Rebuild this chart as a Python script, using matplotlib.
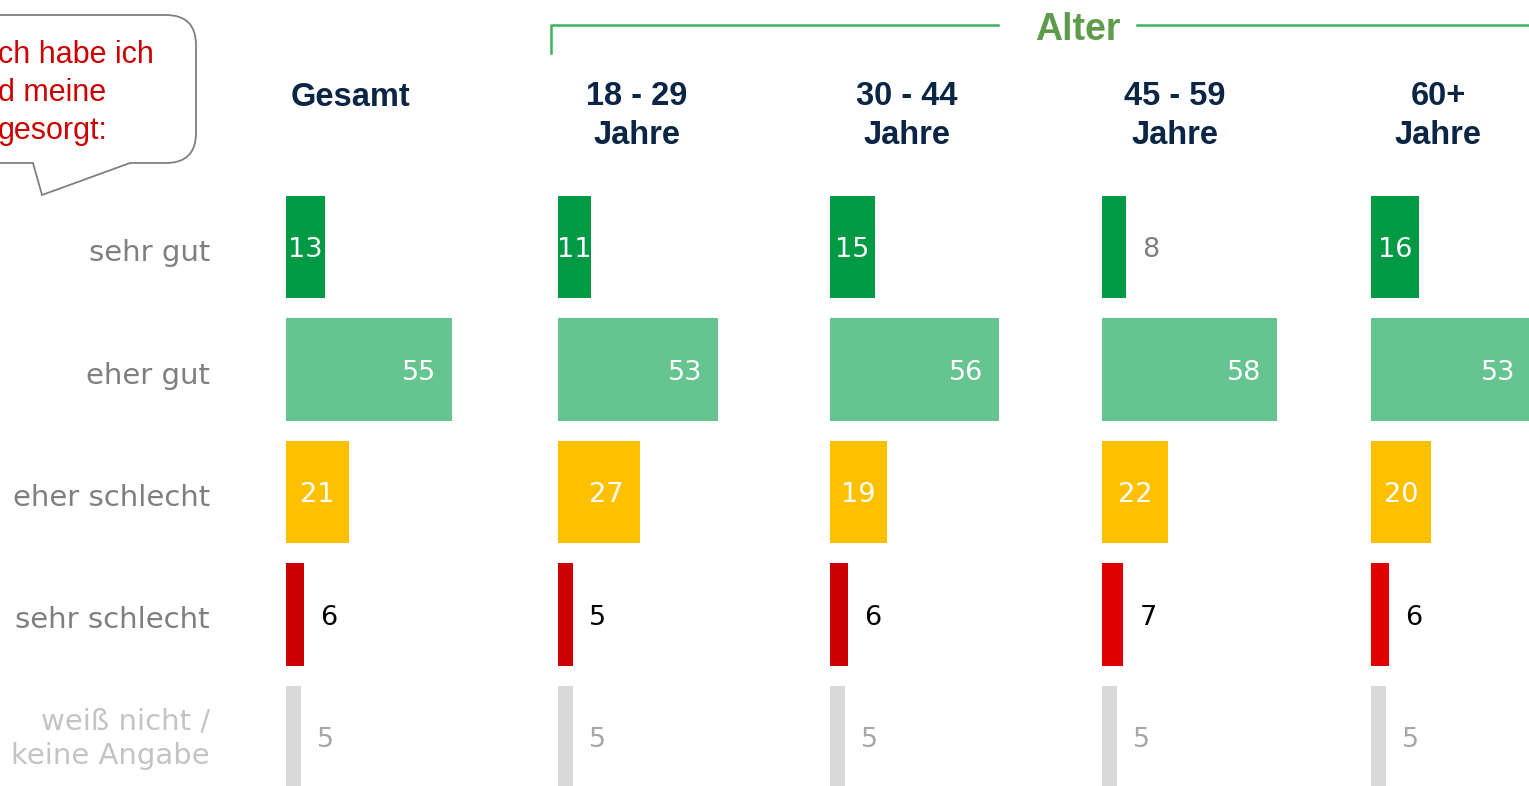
import matplotlib
matplotlib.use('Agg')
import matplotlib.pyplot as plt
from matplotlib.patches import PathPatch
from matplotlib.path import Path

# Data (percent)
categories = ['sehr gut', 'eher gut', 'eher schlecht', 'sehr schlecht',
              'weiß nicht /\nkeine Angabe']
groups = ['Gesamt', '18 - 29\nJahre', '30 - 44\nJahre', '45 - 59\nJahre', '60+\nJahre']
gesamt = [13, 55, 21, 6, 5]
age_18_29 = [11, 53, 27, 5, 5]
age_30_44 = [15, 56, 19, 6, 5]
age_45_59 = [8, 58, 22, 7, 5]
age_60_plus = [16, 53, 20, 6, 5]
values = [gesamt, age_18_29, age_30_44, age_45_59, age_60_plus]
bubble_lines = ['ch habe ich', 'd meine', 'gesorgt:']

# Styling
bar_colors = ['#009a44', '#66c491', '#ffc000', '#cc0000', '#d9d9d9']
red_per_panel = ['#cc0000', '#cc0000', '#cc0000', '#e00000', '#e00000']
outside_colors = ['#7f7f7f', '#7f7f7f', '#7f7f7f', 'black', '#a6a6a6']
cat_colors = ['#7f7f7f', '#7f7f7f', '#7f7f7f', '#7f7f7f', '#c4c4c4']
navy = '#0b2545'
green_line = '#3cb45a'
green_text = '#5e9c4c'

W, H = 1529, 786
panel_left = [286, 558, 830, 1102, 1371]
header_x = [351, 637, 907, 1175, 1438]
px_per_unit = 3.02
xmax = 90
row_top, row_step = 185.75, 122.5

fig = plt.figure(figsize=(W / 100, H / 100), dpi=100)

# overlay axes in pixel coordinates for decorations
ov = fig.add_axes([0, 0, 1, 1])
ov.set_xlim(0, W)
ov.set_ylim(H, 0)
ov.axis('off')

# speech bubble
verts = [(-30, 15), (166, 15), (196, 15), (196, 45), (196, 133), (196, 163),
         (166, 163), (130, 163), (42, 195), (33, 163), (-30, 163), (-30, 15)]
codes = [Path.MOVETO, Path.LINETO, Path.CURVE3, Path.CURVE3, Path.LINETO,
         Path.CURVE3, Path.CURVE3, Path.LINETO, Path.LINETO, Path.LINETO,
         Path.LINETO, Path.CLOSEPOLY]
ov.add_patch(PathPatch(Path(verts, codes), facecolor='white',
                       edgecolor='#808080', lw=1.3))
for i, line in enumerate(bubble_lines):
    ov.text(-2, 55 + 38 * i, line, ha='left', va='center', fontsize=22,
            color='#cc0000', family='Liberation Sans')

# "Alter" bracket
ov.plot([551, 551, 998], [53, 25, 25], color=green_line, lw=1.8)
ov.plot([1137, W], [25, 25], color=green_line, lw=1.8)
ov.text(1078, 30, 'Alter', ha='center', va='center', fontsize=27,
        fontweight='bold', color=green_text, family='Liberation Sans')

# group headers
for g, hx in zip(groups, header_x):
    yc = 97 if '\n' not in g else 116
    ov.text(hx, yc, g, ha='center', va='center', fontsize=23.5,
            fontweight='bold', color=navy, family='Liberation Sans',
            linespacing=1.32)

# category labels
for i, (cat, c) in enumerate(zip(categories, cat_colors)):
    yc = row_top + row_step * (i + 0.5)
    ov.text(210, yc + (2 if i == 4 else 6), cat, ha='right', va='center',
            fontsize=21, color=c, multialignment='right', linespacing=1.3)

# panels
for p, (x0, vals) in enumerate(zip(panel_left, values)):
    ax = fig.add_axes([x0 / W, 1 - (row_top + 5 * row_step) / H,
                       xmax * px_per_unit / W, 5 * row_step / H])
    cols = list(bar_colors)
    cols[3] = red_per_panel[p]
    ax.barh(range(len(vals)), vals, height=0.833, color=cols)
    ax.set_xlim(0, xmax)
    ax.set_ylim(len(vals) - 0.5, -0.5)
    ax.axis('off')
    for i, v in enumerate(vals):
        if v >= 10:
            ax.text(max(v - 11, v / 2), i + 0.025, str(v), ha='center',
                    va='center', fontsize=19.5, color='white')
        else:
            ax.text(v + 5.4, i + 0.025, str(v), ha='left', va='center',
                    fontsize=19.5, color=outside_colors[i])

fig.savefig('out.png', dpi=100)
